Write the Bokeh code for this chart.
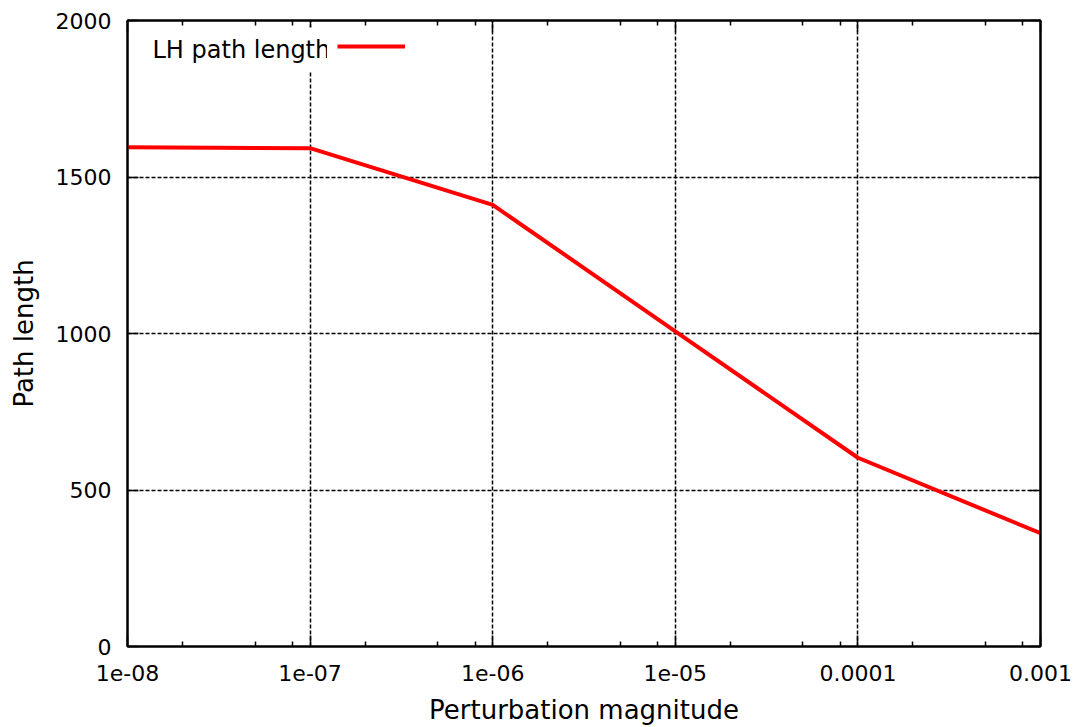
from bokeh.plotting import figure
from bokeh.models import (LogAxis, LinearAxis, FixedTicker, Range1d, Legend,
                          LegendItem, Label, CustomJSTickFormatter)
from bokeh.embed import file_html
from bokeh.resources import INLINE

# ---- data ----
perturbation = [1e-8, 1e-7, 1e-6, 1e-5, 1e-4, 1e-3]
lh_path_length = [1595, 1592, 1411, 1007, 603, 362]

x_ticks = [1e-8, 1e-7, 1e-6, 1e-5, 1e-4, 1e-3]
x_tick_labels = ["1e-08", "1e-07", "1e-06", "1e-05", "0.0001", "0.001"]
x_minor_mult = [2, 5, 8]
y_ticks = [0, 500, 1000, 1500, 2000]
y_tick_labels = ["0", "500", "1000", "1500", "2000"]

x_minor = [m * t for t in x_ticks[:-1] for m in x_minor_mult]

FONT = "DejaVu Sans"

p = figure(width=1080, height=727, x_axis_type="log",
           x_range=Range1d(x_ticks[0], x_ticks[-1]),
           y_range=Range1d(y_ticks[0], y_ticks[-1]),
           output_backend="svg", toolbar_location=None,
           min_border_left=127, min_border_right=40,
           min_border_top=20, min_border_bottom=81)

p.outline_line_color = "black"
p.outline_line_width = 2
p.outline_line_alpha = 1

xt = FixedTicker(ticks=x_ticks, minor_ticks=x_minor)
yt = FixedTicker(ticks=y_ticks)

xfmt = CustomJSTickFormatter(args=dict(vals=x_ticks, labels=x_tick_labels), code="""
    let best = 0, bd = Infinity;
    for (let i = 0; i < vals.length; i++) {
        const d = Math.abs(Math.log10(vals[i]) - Math.log10(tick));
        if (d < bd) { bd = d; best = i; }
    }
    return labels[best];
""")
yfmt = CustomJSTickFormatter(args=dict(vals=y_ticks, labels=y_tick_labels), code="""
    let best = 0, bd = Infinity;
    for (let i = 0; i < vals.length; i++) {
        const d = Math.abs(vals[i] - tick);
        if (d < bd) { bd = d; best = i; }
    }
    return labels[best];
""")
blank = CustomJSTickFormatter(code="return '';")

def style_axis(ax, labels=True):
    ax.axis_line_color = "black"
    ax.axis_line_width = 2
    ax.major_tick_in = 11
    ax.major_tick_out = 0
    ax.minor_tick_in = 5
    ax.minor_tick_out = 0
    ax.major_tick_line_color = "black"
    ax.major_tick_line_width = 1.5
    ax.minor_tick_line_color = "black"
    ax.minor_tick_line_width = 1.5
    ax.major_label_text_font = FONT
    ax.major_label_text_font_size = "22px"
    ax.major_label_text_color = "black"
    ax.axis_label_text_font = FONT
    ax.axis_label_text_font_size = "26px"
    ax.axis_label_text_font_style = "normal"
    ax.axis_label_text_color = "black"
    if not labels:
        ax.formatter = blank
        ax.major_label_standoff = 0

xa = p.xaxis[0]
xa.ticker = xt
xa.formatter = xfmt
xa.axis_label = "Perturbation magnitude"
style_axis(xa)
xa.major_label_standoff = 18
xa.axis_label_standoff = 11

ya = p.yaxis[0]
ya.ticker = yt
ya.formatter = yfmt
ya.axis_label = "Path length"
style_axis(ya)
ya.minor_tick_in = 0
ya.major_label_standoff = 16
ya.axis_label_standoff = 14

top = LogAxis(ticker=FixedTicker(ticks=x_ticks, minor_ticks=x_minor))
style_axis(top, labels=False)
p.add_layout(top, "above")

right = LinearAxis(ticker=FixedTicker(ticks=y_ticks))
style_axis(right, labels=False)
right.minor_tick_in = 0
p.add_layout(right, "right")

for g in (p.xgrid[0], p.ygrid[0]):
    g.grid_line_color = "black"
    g.grid_line_width = 1.5
    g.grid_line_alpha = 1
    g.grid_line_dash = "4 2"
p.xgrid[0].ticker = xt
p.ygrid[0].ticker = yt

r = p.line(perturbation, lh_path_length, line_color="red", line_width=4)

legend_text = Label(x=17, y=597, x_units="screen", y_units="screen",
                    text="LH path length", text_font=FONT,
                    text_font_size="24px", text_color="black",
                    text_baseline="middle", text_align="left",
                    background_fill_color="white", padding=8)
p.add_layout(legend_text)

legend = Legend(items=[LegendItem(label=" ", renderers=[r])],
                location=(200, 580), glyph_width=68, glyph_height=20,
                padding=10, margin=0, spacing=0, label_standoff=0,
                label_width=4, label_text_font_size="12px",
                background_fill_color="white", background_fill_alpha=1,
                border_line_alpha=0)
p.add_layout(legend)

open("out.html", "w").write(file_html(p, INLINE))
